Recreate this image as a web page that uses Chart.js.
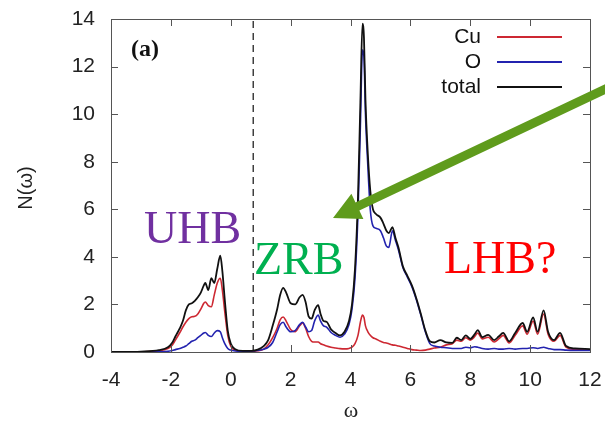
<!DOCTYPE html>
<html><head><meta charset="utf-8">
<script src="https://cdn.jsdelivr.net/npm/chart.js@4"></script>
<style>html,body{margin:0;padding:0;background:#fff}#wrap{width:605px;height:424px}</style>
</head><body><div id="wrap"><canvas id="c" width="605" height="424"></canvas></div>
<script>
const omega = [-4,-3,-2.4,-2.1,-1.95,-1.85,-1.7,-1.6,-1.5,-1.4,-1.3,-1.2,-1.1,-1.0,-0.9,-0.85,-0.75,-0.65,-0.55,-0.45,-0.35,-0.28,-0.2,-0.1,0,0.15,0.4,0.7,0.9,1.1,1.25,1.4,1.55,1.65,1.75,1.85,2.0,2.15,2.3,2.4,2.5,2.6,2.7,2.8,2.92,3.0,3.1,3.2,3.35,3.5,3.65,3.8,3.95,4.05,4.15,4.25,4.33,4.4,4.45,4.5,4.58,4.66,4.75,4.85,5.0,5.1,5.2,5.28,5.4,5.5,5.6,5.75,5.9,6.05,6.2,6.35,6.5,6.65,6.8,7.0,7.2,7.4,7.55,7.7,7.85,8.0,8.15,8.25,8.4,8.6,8.8,8.95,9.1,9.3,9.5,9.75,9.9,10.1,10.25,10.45,10.6,10.8,11.0,11.2,11.5,12];
const total = [0,0.02,0.08,0.2,0.4,0.65,1.0,1.3,1.75,2.0,2.05,2.15,2.3,2.5,2.8,2.9,2.6,3.1,2.9,3.5,4.05,3.4,2.2,0.9,0.35,0.12,0.05,0.05,0.1,0.25,0.5,1.1,1.8,2.4,2.7,2.5,2.05,2.0,2.3,2.4,2.1,1.5,1.4,1.75,1.97,1.6,1.3,1.27,0.95,0.8,0.7,0.85,1.3,2.0,3.5,6.5,10.5,13.8,13.2,10.6,8.3,6.8,6.0,5.8,5.65,5.4,5.1,5.0,5.25,4.8,4.4,3.6,3.2,2.8,2.25,1.6,0.9,0.45,0.4,0.5,0.4,0.38,0.6,0.5,0.7,0.55,0.75,0.92,0.62,0.72,0.5,0.65,0.8,0.45,0.8,1.22,0.85,1.45,0.85,1.75,0.85,0.5,0.8,0.25,0.15,0.12];
const cu = [0,0.01,0.05,0.15,0.3,0.5,0.82,1.05,1.25,1.4,1.48,1.5,1.6,1.8,2.05,2.1,1.95,1.9,2.4,2.9,3.1,2.6,1.7,0.7,0.25,0.08,0.03,0.03,0.05,0.12,0.3,0.6,1.0,1.35,1.47,1.3,0.95,0.85,1.1,1.22,1.0,0.65,0.45,0.42,0.42,0.35,0.3,0.25,0.2,0.17,0.14,0.13,0.15,0.2,0.35,0.7,1.25,1.55,1.45,1.1,0.85,0.7,0.6,0.55,0.45,0.4,0.38,0.35,0.3,0.28,0.25,0.2,0.15,0.1,0.08,0.06,0.08,0.12,0.17,0.2,0.3,0.35,0.5,0.45,0.6,0.5,0.65,0.8,0.55,0.62,0.42,0.55,0.7,0.38,0.7,1.1,0.75,1.3,0.75,1.6,0.75,0.45,0.7,0.2,0.1,0.08];
const oxygen = [0,0,0.01,0.03,0.06,0.1,0.15,0.2,0.25,0.35,0.45,0.5,0.6,0.7,0.8,0.82,0.7,0.65,0.8,0.9,0.85,0.6,0.35,0.15,0.08,0.04,0.03,0.04,0.06,0.12,0.2,0.4,0.85,1.15,1.25,1.05,0.85,0.9,1.15,1.25,1.05,0.85,0.9,1.3,1.55,1.3,1.1,1.05,0.82,0.7,0.62,0.75,1.15,1.8,3.1,5.8,9.5,12.7,12.4,10.0,7.8,6.0,5.3,5.2,5.1,4.8,4.45,4.4,5.1,4.7,4.3,3.55,3.15,2.75,2.2,1.55,0.85,0.35,0.25,0.2,0.18,0.15,0.15,0.15,0.2,0.18,0.22,0.2,0.15,0.12,0.15,0.12,0.12,0.15,0.12,0.15,0.15,0.18,0.15,0.2,0.15,0.1,0.1,0.08,0.07,0.07];
const seriesNames = ['Cu','O','total'];
const seriesColors = ['rgb(205,40,50)','rgb(35,35,175)','#111'];
const fermiLevel = 0.75;
const xRange = [-4, 12];
const yRange = [0, 14];
const tickStep = 2;

const pts = arr => omega.map((x,i)=>({x:x,y:arr[i]}));

const deco = {
  id:'deco',
  afterDatasetsDraw(chart){
    const ctx = chart.ctx, a = chart.chartArea, xs = chart.scales.x, ys = chart.scales.y;
    ctx.save();
    ctx.strokeStyle = '#555'; ctx.lineWidth = 1;
    ctx.strokeRect(Math.round(a.left)+0.5, Math.round(a.top)+0.5, Math.round(a.right-a.left), Math.round(a.bottom-a.top));
    ctx.beginPath();
    xs.ticks.forEach(t=>{
      const p = Math.round(xs.getPixelForValue(t.value))+0.5;
      if (t.value===xRange[0]||t.value===xRange[1]) return;
      ctx.moveTo(p,a.bottom); ctx.lineTo(p,a.bottom-7);
      ctx.moveTo(p,a.top); ctx.lineTo(p,a.top+7);
    });
    ys.ticks.forEach(t=>{
      const p = Math.round(ys.getPixelForValue(t.value))+0.5;
      if (t.value===yRange[0]||t.value===yRange[1]) return;
      ctx.moveTo(a.left,p); ctx.lineTo(a.left+7,p);
      ctx.moveTo(a.right,p); ctx.lineTo(a.right-7,p);
    });
    ctx.stroke();
    ctx.restore();
  },
  afterDraw(chart){
    const ctx = chart.ctx;
    ctx.save();
    // axis titles
    ctx.fillStyle = '#222';
    ctx.font = '20px "Liberation Sans", Arial, sans-serif';
    ctx.textAlign = 'center'; ctx.textBaseline = 'middle';
    ctx.save(); ctx.translate(26,188); ctx.rotate(-Math.PI/2); ctx.fillText('N(ω)',0,0); ctx.restore();
    ctx.font = '22px "Liberation Serif", "Times New Roman", serif';
    ctx.fillText('ω', 351, 411);
    // panel label
    ctx.fillStyle = '#111';
    ctx.font = 'bold 24px "Liberation Serif", "Times New Roman", serif';
    ctx.textAlign = 'left';
    ctx.fillText('(a)', 131, 50);
    // legend
    ctx.font = '21px "Liberation Sans", Arial, sans-serif';
    ctx.textAlign = 'right';
    const ly = [37, 62, 87];
    seriesNames.forEach((n,i)=>{
      ctx.fillStyle = '#111';
      ctx.fillText(n, 481, ly[i]);
      ctx.strokeStyle = seriesColors[i]; ctx.lineWidth = 2;
      ctx.beginPath(); ctx.moveTo(497, ly[i]); ctx.lineTo(562, ly[i]); ctx.stroke();
    });
    // band annotations
    ctx.textAlign = 'left'; ctx.textBaseline = 'alphabetic';
    ctx.font = '46px "Liberation Serif", "Times New Roman", serif';
    ctx.fillStyle = '#7030A0'; ctx.fillText('UHB', 144, 243);
    ctx.fillStyle = '#00B050'; ctx.fillText('ZRB', 254, 274);
    ctx.fillStyle = '#FF0000'; ctx.fillText('LHB?', 444, 273);
    // arrow
    const x0=612,y0=86,x1=333,y1=218;
    const dx=x1-x0, dy=y1-y0, L=Math.hypot(dx,dy), ux=dx/L, uy=dy/L, nx=-uy, ny=ux;
    const hl=27, hw=14, sw=4.5;
    const bx=x1-ux*hl, by=y1-uy*hl;
    ctx.fillStyle = '#5F9B1C';
    ctx.beginPath();
    ctx.moveTo(x0+nx*sw,y0+ny*sw);
    ctx.lineTo(bx+nx*sw,by+ny*sw);
    ctx.lineTo(bx+nx*hw,by+ny*hw);
    ctx.lineTo(x1,y1);
    ctx.lineTo(bx-nx*hw,by-ny*hw);
    ctx.lineTo(bx-nx*sw,by-ny*sw);
    ctx.lineTo(x0-nx*sw,y0-ny*sw);
    ctx.closePath(); ctx.fill();
    ctx.restore();
  }
};

new Chart(document.getElementById('c'), {
  type:'line',
  data:{datasets:[
    {label:seriesNames[2], data:pts(total), borderColor:seriesColors[2], borderWidth:1.8, pointRadius:0, cubicInterpolationMode:'monotone', order:1},
    {label:seriesNames[1], data:pts(oxygen), borderColor:seriesColors[1], borderWidth:1.6, pointRadius:0, cubicInterpolationMode:'monotone', order:2},
    {label:seriesNames[0], data:pts(cu), borderColor:seriesColors[0], borderWidth:1.6, pointRadius:0, cubicInterpolationMode:'monotone', order:3},
    {label:'EF', data:[{x:fermiLevel,y:yRange[0]},{x:fermiLevel,y:yRange[1]}], borderColor:'#111', borderWidth:1.2, borderDash:[7,5], pointRadius:0, order:4}
  ]},
  options:{
    responsive:false, animation:false, devicePixelRatio:1,
    layout:{padding:{top:19,right:15,left:0,bottom:0}},
    plugins:{legend:{display:false}, tooltip:{enabled:false}},
    scales:{
      x:{type:'linear', min:xRange[0], max:xRange[1],
        grid:{display:false, drawTicks:false}, border:{display:false},
        ticks:{stepSize:tickStep, padding:16, color:'#222', font:{family:'"Liberation Sans", Arial, sans-serif', size:21}, maxRotation:0, autoSkip:false},
        afterFit:s=>{s.height=72; s.paddingLeft=0; s.paddingRight=0;}},
      y:{type:'linear', min:yRange[0], max:yRange[1],
        grid:{display:false, drawTicks:false}, border:{display:false},
        ticks:{stepSize:tickStep, padding:16, color:'#222', font:{family:'"Liberation Sans", Arial, sans-serif', size:21}},
        afterFit:s=>{s.width=111; s.paddingTop=0; s.paddingBottom=0;}}
    }
  },
  plugins:[deco]
});
</script></body></html>
